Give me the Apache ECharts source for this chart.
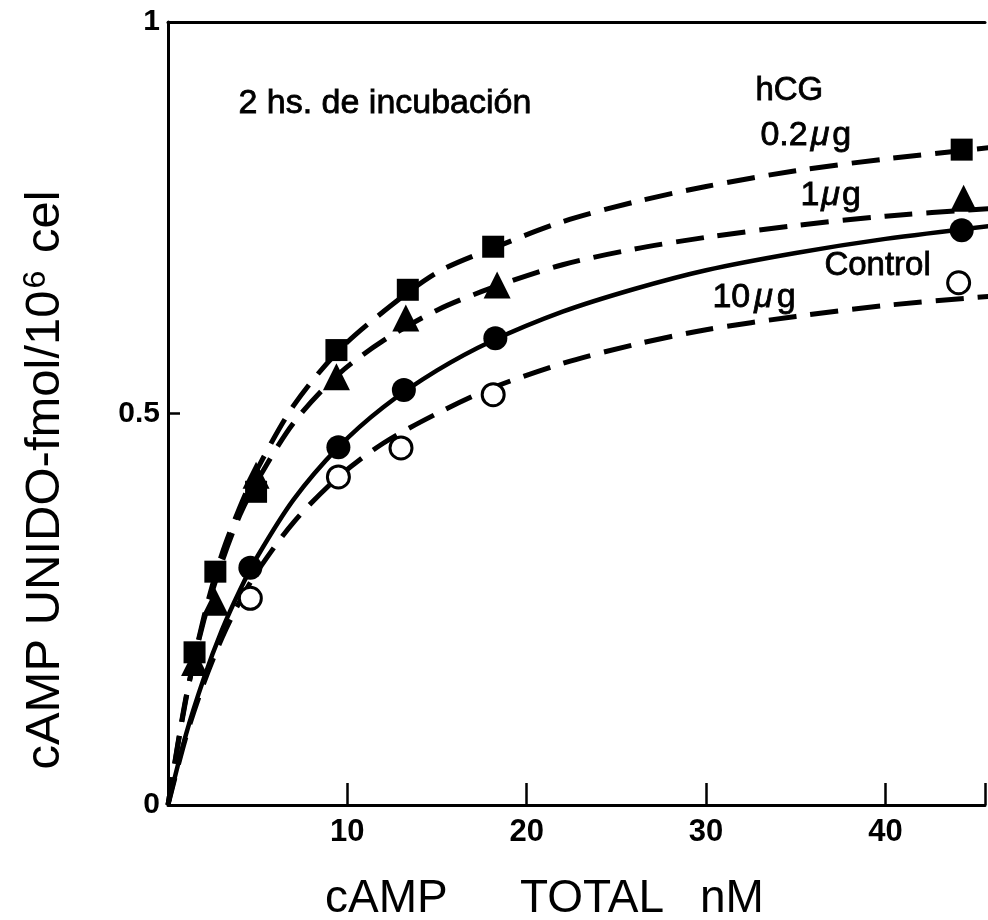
<!DOCTYPE html>
<html>
<head>
<meta charset="utf-8">
<script src="https://cdn.jsdelivr.net/npm/echarts@6/dist/echarts.min.js"></script>
<style>
  html, body { margin: 0; padding: 0; background: #fff; }
  #chart { width: 988px; height: 920px; }
</style>
</head>
<body>
<div id="chart"></div>
<script>
// Measured points: cAMP total (nM) vs bound cAMP (fmol / 10^6 cells)
const hcg02X = [1.48, 2.64, 4.91, 9.39, 13.37, 18.13, 44.25];
const hcg02Y = [0.195, 0.298, 0.400, 0.581, 0.658, 0.713, 0.837];

const hcg1X = [1.48, 2.64, 4.91, 9.39, 13.26, 18.35, 44.36];
const hcg1Y = [0.182, 0.259, 0.421, 0.547, 0.622, 0.664, 0.775];

const controlX = [4.59, 9.5, 13.15, 18.25, 44.25];
const controlY = [0.303, 0.457, 0.530, 0.596, 0.734];

const hcg10X = [4.59, 9.5, 12.99, 18.13, 44.08];
const hcg10Y = [0.264, 0.419, 0.456, 0.524, 0.667];

// Traced binding curves (same x positions for all four)
const curveX    = [0, 1, 2, 3, 4, 5, 7, 9.5, 12, 15, 18, 22, 26, 30, 35, 40, 46];
const curve02   = [0, 0.135, 0.24, 0.32, 0.38, 0.43, 0.51, 0.58, 0.63, 0.68, 0.71, 0.745, 0.77, 0.79, 0.81, 0.825, 0.84];
const curve1    = [0, 0.137, 0.236, 0.31, 0.37, 0.415, 0.488, 0.55, 0.593, 0.632, 0.66, 0.69, 0.71, 0.725, 0.74, 0.752, 0.762];
const curveCtrl = [0, 0.09, 0.162, 0.223, 0.274, 0.318, 0.39, 0.457, 0.508, 0.555, 0.592, 0.630, 0.659, 0.683, 0.705, 0.723, 0.740];
const curve10   = [0, 0.087, 0.156, 0.213, 0.26, 0.299, 0.361, 0.419, 0.462, 0.50, 0.532, 0.564, 0.588, 0.607, 0.624, 0.638, 0.65];

const xTicks = [0, 10, 20, 30, 40];
const yTicks = [0, 0.5, 1];

const zip = (xs, ys) => xs.map((x, i) => [x, ys[i]]);
const FONT = '"Liberation Sans", Arial, Helvetica, sans-serif';
const INK = '#000';

function curveSeries(ys, dashed) {
  return {
    type: 'line',
    data: zip(curveX, ys),
    smooth: 0.3,
    showSymbol: false,
    silent: true,
    z: 2,
    lineStyle: { color: INK, width: dashed ? 5 : 4.5, type: dashed ? [28, 14] : 'solid', opacity: 1 }
  };
}

function markerSeries(xs, ys, symbol, size, open) {
  return {
    type: 'scatter',
    data: zip(xs, ys),
    symbol: symbol,
    symbolSize: size,
    z: 3,
    itemStyle: open
      ? { color: '#fff', borderColor: INK, borderWidth: 3, opacity: 1 }
      : { color: INK, opacity: 1 }
  };
}

// bolder stroke for the lettering
const inked = { stroke: INK, lineWidth: 0.8 };

const chart = echarts.init(document.getElementById('chart'), null, { renderer: 'canvas' });

chart.setOption({
  animation: false,
  backgroundColor: '#fff',
  grid: { left: 168, right: 0, top: 22, bottom: 115, containLabel: false },
  xAxis: [
    {
      type: 'value', min: 0, max: 45.55, interval: 10,
      axisLine: { lineStyle: { color: INK, width: 3 } },
      axisTick: { inside: true, length: 22, lineStyle: { color: INK, width: 2.5 } },
      axisLabel: {
        color: INK, fontSize: 31, fontWeight: 'bold', fontFamily: FONT, margin: 12,
        formatter: v => (xTicks.indexOf(v) > 0 ? String(v) : '')
      },
      splitLine: { show: false }
    },
    {
      type: 'value', min: 0, max: 45.55, position: 'top',
      axisLine: { show: true, lineStyle: { color: INK, width: 3 } },
      axisTick: { show: false }, axisLabel: { show: false }, splitLine: { show: false }
    }
  ],
  yAxis: {
    type: 'value', min: 0, max: 1, interval: 0.5,
    axisLine: { show: true, lineStyle: { color: INK, width: 3 } },
    axisTick: { show: true, inside: true, length: 12, lineStyle: { color: INK, width: 2.5 } },
    axisLabel: {
      color: INK, fontSize: 30, fontWeight: 'bold', fontFamily: FONT, margin: 8,
      formatter: v => (yTicks.indexOf(v) >= 0 ? String(v) : '')
    },
    splitLine: { show: false }
  },
  series: [
    curveSeries(curve02, true),
    curveSeries(curve1, true),
    curveSeries(curveCtrl, false),
    curveSeries(curve10, true),
    markerSeries(hcg1X, hcg1Y, 'triangle', 27, false),
    markerSeries(hcg02X, hcg02Y, 'rect', 22, false),
    markerSeries(controlX, controlY, 'circle', 24, false),
    markerSeries(hcg10X, hcg10Y, 'circle', 22, true)
  ],
  graphic: [
    // axis titles
    { type: 'text', left: 325, top: 876, style: { text: 'cAMP', font: '46px ' + FONT, fill: INK } },
    { type: 'text', left: 520, top: 876, style: { text: 'TOTAL', font: '46px ' + FONT, fill: INK } },
    { type: 'text', left: 700, top: 876, style: { text: 'nM', font: '46px ' + FONT, fill: INK } },
    {
      type: 'text', x: 45, y: 480, rotation: Math.PI / 2,
      style: {
        text: 'cAMP UNIDO-fmol/10{sup|6} cel',
        font: '49px ' + FONT, fill: INK,
        align: 'center', verticalAlign: 'middle',
        rich: { sup: { fontSize: 32, fontFamily: FONT, verticalAlign: 'top', padding: [0, 4, 16, 2] } }
      }
    },
    // annotations
    { type: 'text', left: 238, top: 86, style: Object.assign({ text: '2 hs. de incubación', font: '34px ' + FONT, fill: INK }, inked) },
    { type: 'text', left: 755, top: 74, style: Object.assign({ text: 'hCG', font: '33px ' + FONT, fill: INK }, inked) },
    {
      type: 'text', left: 760, top: 118,
      style: Object.assign({ text: '0.2{mu|μ}g', font: '34px ' + FONT, fill: INK,
        rich: { mu: { fontStyle: 'italic', fontSize: 34, fontFamily: FONT, padding: [0, 3, 0, 3] } } }, inked)
    },
    {
      type: 'text', left: 800, top: 178,
      style: Object.assign({ text: '1{mu|μ}g', font: '34px ' + FONT, fill: INK,
        rich: { mu: { fontStyle: 'italic', fontSize: 34, fontFamily: FONT, padding: [0, 2, 0, 2] } } }, inked)
    },
    { type: 'text', left: 824, top: 249, style: Object.assign({ text: 'Control', font: '33px ' + FONT, fill: INK }, inked) },
    {
      type: 'text', left: 712, top: 280,
      style: Object.assign({ text: '10{mu|μ}g', font: '34px ' + FONT, fill: INK,
        rich: { mu: { fontStyle: 'italic', fontSize: 34, fontFamily: FONT, padding: [0, 4, 0, 4] } } }, inked)
    }
  ]
});
</script>
</body>
</html>
